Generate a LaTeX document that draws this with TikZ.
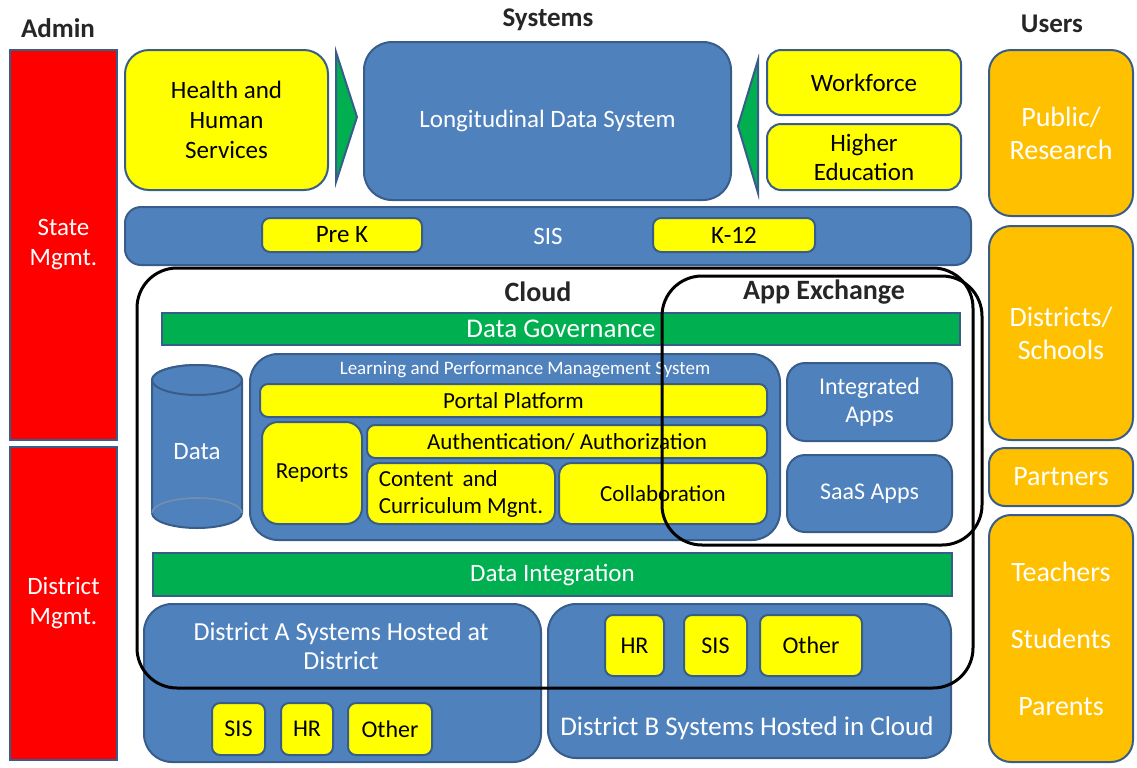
\documentclass[tikz,border=0pt]{standalone}
\usepackage{fontspec}
\setmainfont{Carlito}
\definecolor{bluef}{RGB}{79,129,189}
\definecolor{blued}{RGB}{56,93,138}
\definecolor{yel}{RGB}{255,255,0}
\definecolor{redf}{RGB}{255,0,0}
\definecolor{orng}{RGB}{255,192,0}
\definecolor{grn}{RGB}{0,176,80}
\newcommand{\myfs}[2]{\fontsize{#1}{#2}\selectfont}
% \bx[style]{name}{x1}{y1}{x2}{y2}{text}
\newcommand{\bx}[7][]{%
  \pgfmathsetmacro{\bxcx}{(#3+#5)/2}\pgfmathsetmacro{\bxcy}{(#4+#6)/2}%
  \pgfmathsetmacro{\bxw}{(#5-#3)*0.5}\pgfmathsetmacro{\bxh}{(#6-#4)*0.5}%
  \node[#1, minimum width=\bxw pt, minimum height=\bxh pt] (#2) at (\bxcx,\bxcy) {#7};}
\begin{document}
\begin{tikzpicture}[x=0.5pt,y=-0.5pt,
  base/.style={draw=blued, line width=1pt, inner sep=0pt, align=center},
  bluebox/.style={base, fill=bluef, rounded corners=11pt, text=white, font=\myfs{12.5}{15}},
  yelbox/.style={base, fill=yel, rounded corners=4pt, text=black, font=\myfs{11.5}{13.5}},
  redbox/.style={base, fill=redf, text=white, font=\myfs{12.5}{15}},
  userbox/.style={base, fill=orng, rounded corners=11pt, text=white, font=\myfs{14}{16.5}},
  greenbar/.style={base, fill=grn, text=white},
  ttl/.style={font=\bfseries\myfs{13.5}{16}, text=black!85},
  outline/.style={draw=black, line width=1.5pt, rounded corners=20pt, inner sep=0pt},
  arrowshape/.style={fill=grn, draw=blued, line width=1pt}
]
\useasboundingbox (0,0) rectangle (1137,767);

% titles
\node[ttl] (tadmin) at (58,28) {Admin};
\node[ttl] (tsys) at (548,20) {Systems};
\node[ttl] (tusers) at (1052,24) {Users};

% admin column
\bx[redbox]{state}{10}{50}{117}{440}{State\\Mgmt.}
\bx[redbox]{district}{10}{447}{117}{760}{District\\Mgmt.}

% systems top row
\bx[yelbox, rounded corners=12pt, font=\myfs{12.5}{15}]{hhs}{125}{50}{328}{190}{Health and\\Human\\Services}
\bx[bluebox, rounded corners=14pt]{lds}{364}{42}{731}{200}{Longitudinal Data System}
\bx[yelbox, rounded corners=7pt, font=\myfs{12.5}{15}]{wf}{767}{50}{961}{115}{Workforce}
\bx[yelbox, rounded corners=7pt, font=\myfs{12.5}{14.5}]{he}{767}{124}{961}{190}{Higher\\Education}
\draw[arrowshape] (336,52) -- (357,117) -- (336,182) -- cycle;
\draw[arrowshape] (758,60) -- (738,126) -- (758,193) -- cycle;

% SIS bar
\bx[bluebox, rounded corners=8pt]{sis}{125}{207}{971}{265}{SIS}
\bx[yelbox, font=\myfs{12.5}{15}]{prek}{262}{218}{422}{252}{Pre K}
\bx[yelbox, font=\myfs{12.5}{15}]{k12}{653}{218}{815}{252}{K-12}

% users column
\bx[userbox]{pub}{989}{50}{1133}{216}{Public/\\Research}
\bx[userbox]{dist}{989}{226}{1133}{440}{Districts/\\Schools}
\bx[userbox, rounded corners=8pt]{part}{989}{448}{1133}{506}{Partners}
\bx[userbox, font=\myfs{14}{33.5}]{tsp}{989}{515}{1133}{762}{Teachers\\Students\\Parents}

% cloud contents
\bx[greenbar, font=\myfs{13.5}{16}]{gov}{162}{313}{960}{345}{Data Governance}

% data cylinder
\path[fill=bluef, draw=blued, line width=1pt] (152,380) -- (152,513)
  arc[start angle=180, end angle=360, x radius=22.5pt, y radius=7.5pt]
  -- (242,380) arc[start angle=0, end angle=180, x radius=22.5pt, y radius=7.5pt] -- cycle;
\draw[fill=bluef, draw=blued, line width=1pt] (197,380) ellipse [x radius=22.5pt, y radius=7.5pt];
\draw[blued!70, line width=0.8pt] (152,513) arc[start angle=180, end angle=0, x radius=22.5pt, y radius=7.5pt];
\node[text=white, font=\myfs{12.5}{15}] (data) at (197,452) {Data};

% LPMS
\bx[bluebox, rounded corners=14pt]{lpms}{250}{354}{780}{540}{}
\node[text=white, font=\myfs{9.5}{11}] (lpmst) at (525,370) {Learning and Performance Management System};
\bx[yelbox]{portal}{260}{384}{767}{417}{Portal Platform}
\bx[yelbox, rounded corners=8pt]{reports}{262}{422}{362}{524}{Reports}
\bx[yelbox]{auth}{367}{425}{767}{458}{Authentication/ Authorization}
\bx[yelbox, rounded corners=6pt, align=left]{content}{367}{463}{555}{524}{Content \,and\\Curriculum Mgnt.}
\bx[yelbox, rounded corners=6pt]{collab}{559}{463}{767}{524}{Collaboration}

\bx[bluebox, rounded corners=9pt, font=\myfs{12}{14}]{integ}{787}{363}{952}{441}{Integrated\\Apps}
\bx[bluebox, rounded corners=9pt, font=\myfs{12}{14}]{saas}{787}{455}{952}{532}{SaaS Apps}

\bx[greenbar, font=\myfs{12.5}{15}]{dint}{153}{553}{952}{596}{Data Integration}

% districts
\bx[bluebox, rounded corners=14pt]{dista}{144}{604}{541}{762}{}
\node[text=white, font=\myfs{13}{14.5}, align=center] (distat) at (341,646) {District A Systems Hosted at\\District};
\bx[yelbox, font=\myfs{12}{14}]{asis}{212}{703}{265}{755}{SIS}
\bx[yelbox, font=\myfs{12}{14}]{ahr}{281}{703}{333}{755}{HR}
\bx[yelbox, font=\myfs{12}{14}]{aoth}{348}{703}{432}{755}{Other}

\bx[bluebox, rounded corners=14pt]{distb}{548}{604}{951}{758}{}
\node[text=white, font=\myfs{13.5}{16}] (distbt) at (747,728) {District B Systems Hosted in Cloud};
\bx[yelbox, font=\myfs{12}{14}]{bhr}{605}{615}{664}{676}{HR}
\bx[yelbox, font=\myfs{12}{14}]{bsis}{684}{615}{747}{676}{SIS}
\bx[yelbox, font=\myfs{12}{14}]{both}{760}{615}{862}{676}{Other}

% outlines
\bx[outline]{cloud}{137}{268}{973}{688}{}
\bx[outline]{appx}{662}{276}{982}{545}{}
\node[ttl, font=\bfseries\myfs{14}{16}] (cloudt) at (538,292) {Cloud};
\node[ttl, font=\bfseries\myfs{14}{16}] (appxt) at (824,292) {App Exchange};
\end{tikzpicture}
\end{document}
